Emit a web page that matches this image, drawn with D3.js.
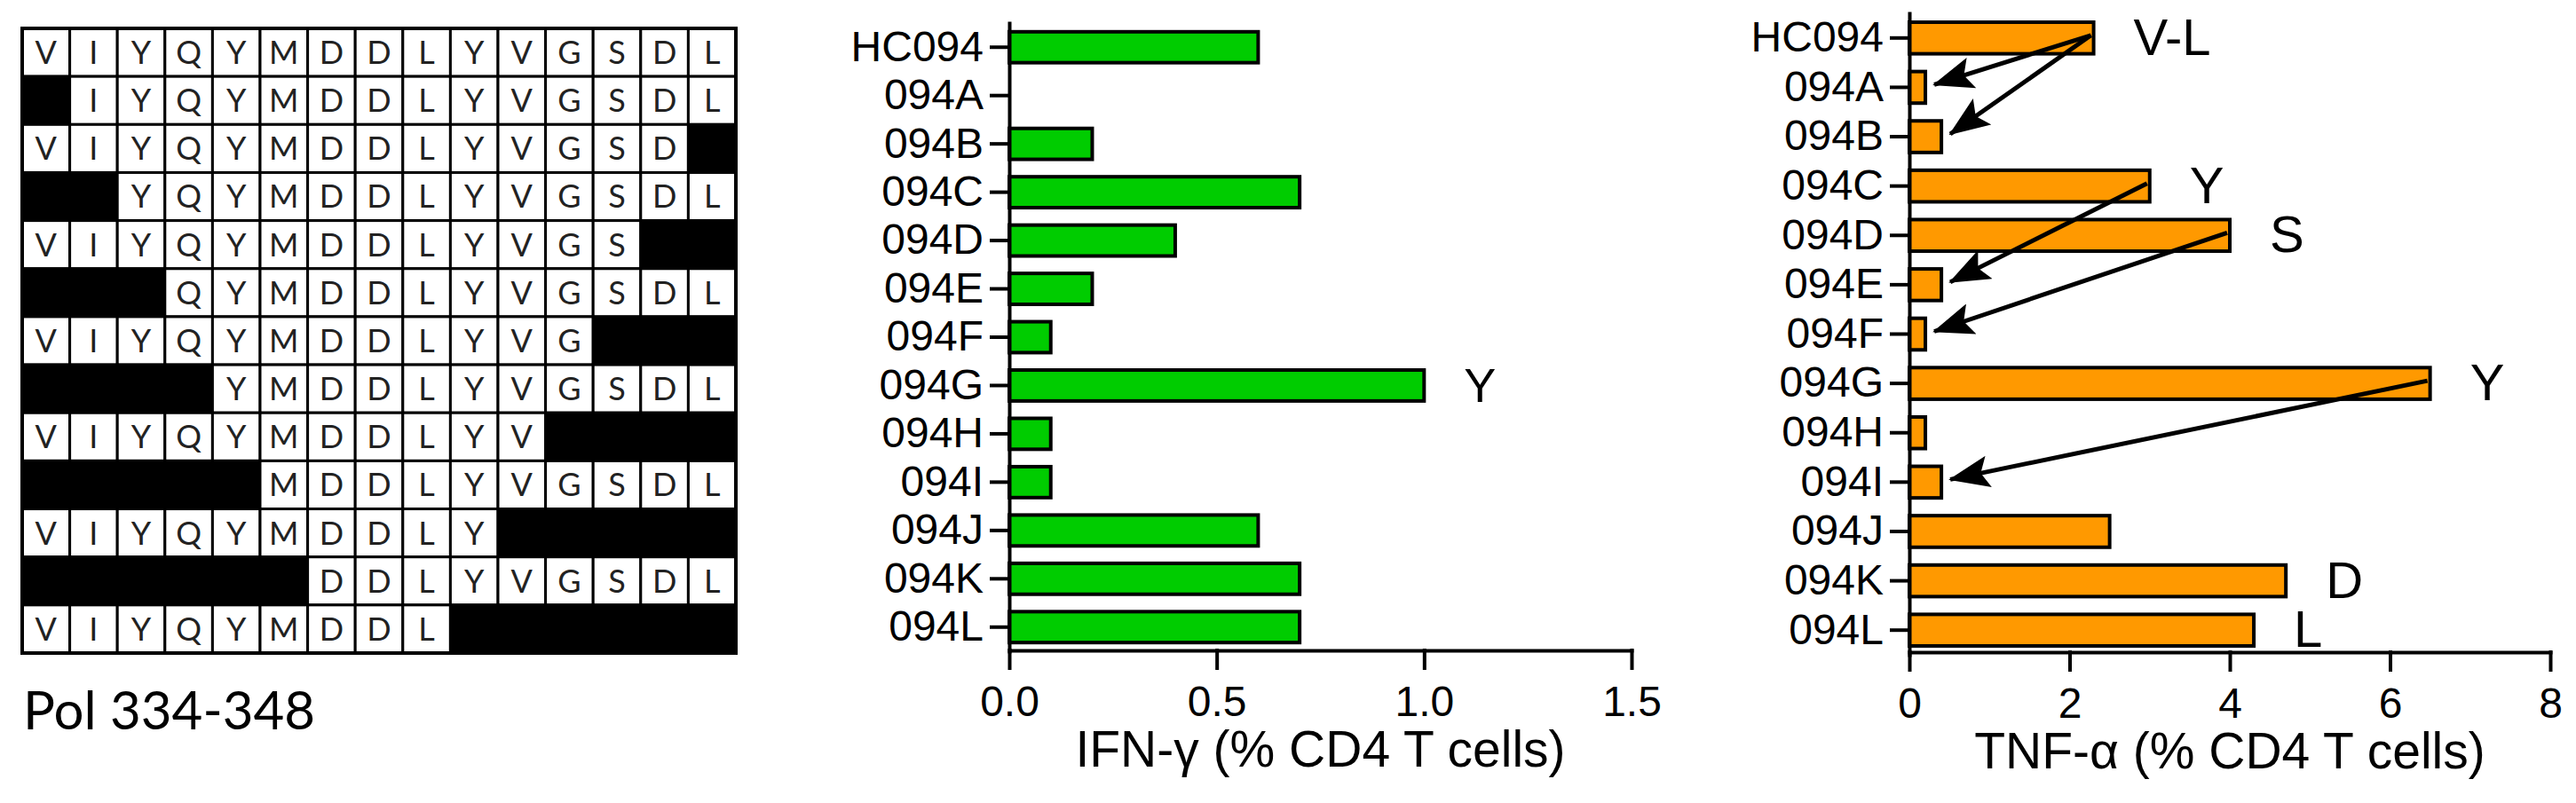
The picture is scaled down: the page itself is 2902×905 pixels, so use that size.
<!DOCTYPE html>
<html>
<head>
<meta charset="utf-8">
<script src="https://cdn.jsdelivr.net/npm/d3@7"></script>
<style>
  body { margin: 0; background: #fff; }
  svg { display: block; background: #fff; }
  text { font-family: "Liberation Sans", Arial, sans-serif; fill: #000; }
</style>
</head>
<body>
<svg id="chart" width="2902" height="905"></svg>
<script>
// Pol 334-348, one residue per column
var residues = ["V", "I", "Y", "Q", "Y", "M", "D", "D", "L", "Y", "V", "G", "S", "D", "L"];
// first residue kept and one past the last kept, per peptide row
var peptideStart = [0, 1, 0, 2, 0, 3, 0, 4, 0, 5, 0, 6, 0];
var peptideEnd = [15, 15, 14, 15, 13, 15, 12, 15, 11, 15, 10, 15, 9];

var peptides = ["HC094", "094A", "094B", "094C", "094D", "094E", "094F",
                "094G", "094H", "094I", "094J", "094K", "094L"];
var ifng = [0.6, 0, 0.2, 0.7, 0.4, 0.2, 0.1, 1.0, 0.1, 0.1, 0.6, 0.7, 0.7];
var tnfa = [2.3, 0.2, 0.4, 3.0, 4.0, 0.4, 0.2, 6.5, 0.2, 0.4, 2.5, 4.7, 4.3];

var ifngTicks = [0, 0.5, 1.0, 1.5];
var tnfaTicks = [0, 2, 4, 6, 8];

// residue letters written next to some bars
var ifngNoteAt = ["094G"];
var ifngNoteText = ["Y"];
var tnfaNoteAt = ["HC094", "094C", "094D", "094G", "094K", "094L"];
var tnfaNoteText = ["V-L", "Y", "S", "Y", "D", "L"];

// arrows in the TNF panel
var arrowFrom = ["HC094", "HC094", "094C", "094D", "094G"];
var arrowTo = ["094A", "094B", "094E", "094F", "094I"];

var svg = d3.select("#chart");

// ---------- peptide grid ----------
var col = d3.scaleBand().domain(d3.range(residues.length)).range([25, 829]);
var row = d3.scaleBand().domain(peptides).range([32, 736]);

var grid = svg.append("g");
peptides.forEach(function(p, i) {
  residues.forEach(function(r, j) {
    var kept = j >= peptideStart[i] && j < peptideEnd[i];
    grid.append("rect")
      .attr("x", col(j))
      .attr("y", row(p))
      .attr("width", col.bandwidth())
      .attr("height", row.bandwidth())
      .attr("fill", kept ? "#fff" : "#000")
      .attr("stroke", "#000")
      .attr("stroke-width", 3);
    if (kept) {
      grid.append("text")
        .attr("x", col(j) + col.bandwidth() / 2)
        .attr("y", row(p) + row.bandwidth() / 2)
        .attr("dy", "0.36em")
        .attr("text-anchor", "middle")
        .style("font-family", "Lato, 'Open Sans', sans-serif")
        .style("font-size", "36px")
        .style("fill", "#222")
        .text(r);
    }
  });
});
grid.append("rect")
  .attr("x", col.range()[0])
  .attr("y", row.range()[0])
  .attr("width", col.range()[1] - col.range()[0])
  .attr("height", row.range()[1] - row.range()[0])
  .attr("fill", "none")
  .attr("stroke", "#000")
  .attr("stroke-width", 4);

svg.append("text")
  .attr("x", 26)
  .attr("y", 822)
  .style("font-family", "Lato, 'Open Sans', sans-serif")
  .style("font-size", "60px")
  .text("Pol 334-348");

// ---------- bar panels ----------
function panel(o) {
  var x = d3.scaleLinear().domain([0, o.ticks[o.ticks.length - 1]]).range(o.xRange);
  var y = d3.scaleBand().domain(peptides).range(o.yRange)
    .paddingInner(0.36).paddingOuter(0.18);
  var g = svg.append("g");

  g.selectAll("rect.bar")
    .data(o.values)
    .join("rect")
    .attr("class", "bar")
    .attr("x", x(0))
    .attr("y", function(d, i) { return y(peptides[i]); })
    .attr("width", function(d) { return x(d) - x(0); })
    .attr("height", y.bandwidth())
    .attr("fill", o.color)
    .attr("stroke", "#000")
    .attr("stroke-width", 4)
    .attr("display", function(d) { return d > 0 ? null : "none"; });

  var yAxis = g.append("g")
    .attr("transform", "translate(" + x(0) + ",0)")
    .call(d3.axisLeft(y).tickSize(20).tickPadding(9).tickSizeOuter(0));

  var xAxis = g.append("g")
    .attr("transform", "translate(0," + o.axisY + ")")
    .call(d3.axisBottom(x).tickValues(o.ticks).tickSize(20).tickPadding(20)
      .tickSizeOuter(0).tickFormat(d3.format(o.fmt)));

  [yAxis, xAxis].forEach(function(a) {
    a.selectAll("path, line").attr("stroke", "#000").attr("stroke-width", 4)
      .attr("stroke-linecap", "square");
    a.selectAll("text")
      .attr("fill", "#000")
      .style("font-family", "'Liberation Sans', Arial, sans-serif")
      .style("font-size", "48px");
  });

  g.append("text")
    .attr("x", (o.xRange[0] + o.xRange[1]) / 2)
    .attr("y", o.axisY + 131)
    .attr("text-anchor", "middle")
    .style("font-size", "57px")
    .text(o.title);

  o.noteAt.forEach(function(p, k) {
    g.append("text")
      .attr("x", x(o.values[peptides.indexOf(p)]) + 45)
      .attr("y", y(p) + y.bandwidth() / 2 + 19)
      .style("font-size", o.noteSize + "px")
      .text(o.noteText[k]);
  });

  return { x: x, y: y, g: g };
}

panel({
  values: ifng, ticks: ifngTicks, fmt: ".1f", color: "#00cc00",
  xRange: [1137, 1838], yRange: [26, 734], axisY: 733,
  title: "IFN-\u03b3 (% CD4 T cells)",
  noteAt: ifngNoteAt, noteText: ifngNoteText, noteSize: 54
});

var tnf = panel({
  values: tnfa, ticks: tnfaTicks, fmt: "d", color: "#ff9900",
  xRange: [2151, 2873], yRange: [15, 738], axisY: 735,
  title: "TNF-\u03b1 (% CD4 T cells)",
  noteAt: tnfaNoteAt, noteText: tnfaNoteText, noteSize: 58
});

// arrowheads
svg.append("defs").append("marker")
  .attr("id", "head")
  .attr("viewBox", "0 0 46 36")
  .attr("markerUnits", "userSpaceOnUse")
  .attr("markerWidth", 46)
  .attr("markerHeight", 36)
  .attr("refX", 44)
  .attr("refY", 18)
  .attr("orient", "auto")
  .append("path")
  .attr("d", "M0,0 L46,18 L0,36 L9,18 Z")
  .attr("fill", "#000");

arrowFrom.forEach(function(p, k) {
  var q = arrowTo[k];
  var yc = function(c) { return tnf.y(c) + tnf.y.bandwidth() / 2 - 3; };
  tnf.g.append("line")
    .attr("x1", tnf.x(tnfa[peptides.indexOf(p)]) - 3)
    .attr("y1", yc(p))
    .attr("x2", tnf.x(tnfa[peptides.indexOf(q)]) + 10)
    .attr("y2", yc(q))
    .attr("stroke", "#000")
    .attr("stroke-width", 5)
    .attr("marker-end", "url(#head)");
});
</script>
</body>
</html>
